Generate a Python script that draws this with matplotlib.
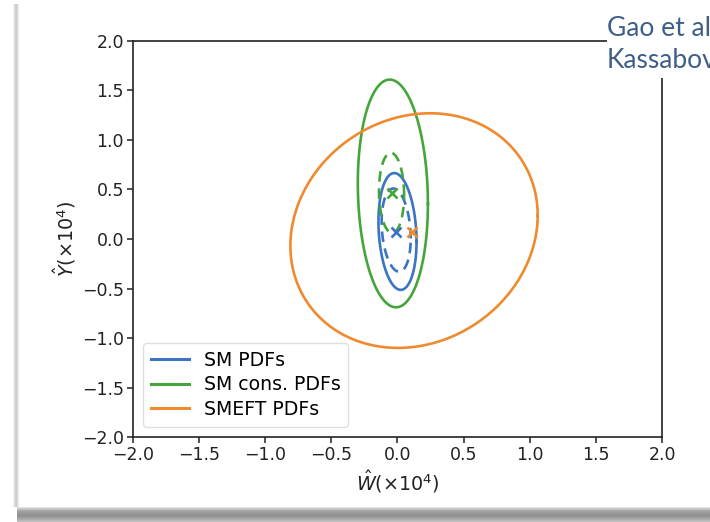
import numpy as np
import matplotlib
matplotlib.use("Agg")
import matplotlib.pyplot as plt
from matplotlib.patches import Rectangle

# contour parameters: centre, half-widths and correlation of each ellipse
labels = ["SM PDFs", "SM cons. PDFs", "SMEFT PDFs"]
colors = ["#3b74c2", "#44a63a", "#ef8a2f"]

# solid contours
solid_cx = [0.00, -0.035, 0.125]
solid_cy = [0.076, 0.46, 0.085]
solid_sx = [0.144, 0.265, 0.935]
solid_sy = [0.59, 1.15, 1.185]
solid_rho = [-0.17, -0.09, 0.13]

# dashed contours (SM and SM cons. only)
dash_cx = [-0.01, -0.045]
dash_cy = [0.09, 0.465]
dash_sx = [0.11, 0.095]
dash_sy = [0.42, 0.405]
dash_rho = [-0.2, -0.05]

# best-fit points
best_x = [-0.015, -0.045, 0.11]
best_y = [0.07, 0.46, 0.07]

xticks = [-2.0, -1.5, -1.0, -0.5, 0.0, 0.5, 1.0, 1.5, 2.0]
yticks = [-2.0, -1.5, -1.0, -0.5, 0.0, 0.5, 1.0, 1.5, 2.0]


def ellipse(cx, cy, sx, sy, rho, n=400):
    t = np.linspace(0, 2 * np.pi, n)
    x = cx + sx * np.cos(t)
    y = cy + sy * (rho * np.cos(t) + np.sqrt(1 - rho**2) * np.sin(t))
    return x, y


fig = plt.figure(figsize=(7.1, 5.22), dpi=100)
fig.patch.set_facecolor("white")

ax = fig.add_axes([0.1873, 0.1628, 0.7451, 0.7587])
fs = 12.5

for i in range(3):
    x, y = ellipse(solid_cx[i], solid_cy[i], solid_sx[i], solid_sy[i], solid_rho[i])
    ax.plot(x, y, color=colors[i], lw=1.9, label=labels[i])
for i in range(2):
    x, y = ellipse(dash_cx[i], dash_cy[i], dash_sx[i], dash_sy[i], dash_rho[i])
    ax.plot(x, y, color=colors[i], lw=1.9, ls=(0, (4, 2.5)))
for i in range(3):
    ax.plot(best_x[i], best_y[i], marker="x", color=colors[i], ms=7, mew=1.9,
            ls="none")

ax.set_xlim(-2, 2)
ax.set_ylim(-2, 2)
ax.set_xticks(xticks)
ax.set_yticks(yticks)
ax.set_xticklabels([f"{v:.1f}".replace("-", "\u2212") for v in xticks], fontsize=fs)
ax.set_yticklabels([f"{v:.1f}".replace("-", "\u2212") for v in yticks], fontsize=fs)
ax.tick_params(direction="out", length=4.5, width=1.1, pad=2, colors="#222222")
for sp in ax.spines.values():
    sp.set_linewidth(1.2)
    sp.set_color("#222222")

ax.set_xlabel(r"$\hat{W}(\times10^4)$", fontsize=13.8, labelpad=3, color="#222222")
ax.set_ylabel(r"$\hat{Y}(\times10^4)$", fontsize=13.8, labelpad=3, color="#222222")

leg = ax.legend(loc="lower left", fontsize=13.6, frameon=True, handlelength=2.0,
                borderpad=0.4, labelspacing=0.3, borderaxespad=0.55)
leg.get_frame().set_edgecolor("#d8d8d8")
leg.get_frame().set_linewidth(1.0)
for h in leg.get_lines():
    h.set_linewidth(2.2)

# white box with the slide citation over the top-right corner
fig.patches.append(Rectangle((607 / 710, 1 - 78 / 522), 1, 78 / 522,
                             transform=fig.transFigure, facecolor="white",
                             edgecolor="none", zorder=5))
fig.text(607 / 710, 1 - 28 / 522, "Gao et al", fontsize=19, family="Lato",
         color="#3d5e88", va="center", ha="left", zorder=6)
fig.text(607 / 710, 1 - 60 / 522, "Kassabov", fontsize=19, family="Lato",
         color="#3d5e88", va="center", ha="left", zorder=6)

# card shadow on the left and bottom edges
sh = fig.add_axes([0, 0, 1, 1], zorder=-1)
sh.axis("off")
band = np.linspace(0, 1, 30)
grad = np.interp(band, [0, 0.25, 0.6, 1], [0.9, 0.64, 0.56, 0.76])
sh.imshow(grad[:, None] * np.ones((1, 10)), cmap="gray", vmin=0, vmax=1,
          extent=[17, 710, 522, 507], aspect="auto")
side = np.interp(np.linspace(0, 1, 10), [0, 0.5, 1], [0.97, 0.78, 0.93])
sh.imshow(np.ones((10, 1)) * side[None, :], cmap="gray", vmin=0, vmax=1,
          extent=[13, 19, 507, 4], aspect="auto")
sh.set_xlim(0, 710)
sh.set_ylim(522, 0)

fig.savefig("out.png", dpi=100)
